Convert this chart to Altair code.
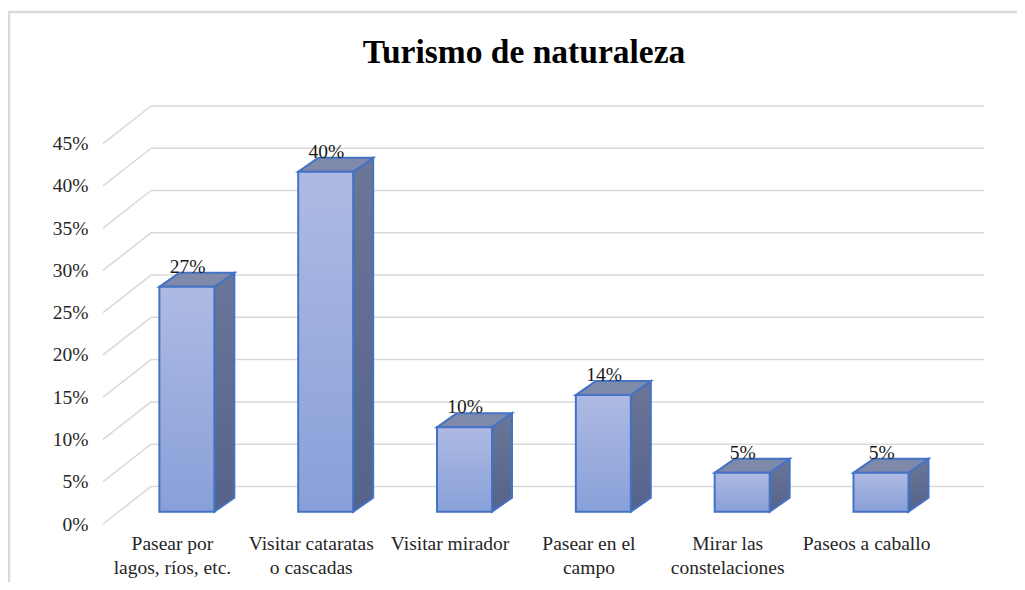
import altair as alt
import pandas as pd

# ---------------- data ----------------
title_text = "Turismo de naturaleza"
categories = [
    "Pasear por\nlagos, ríos, etc.",
    "Visitar cataratas\no cascadas",
    "Visitar mirador",
    "Pasear en el\ncampo",
    "Mirar las\nconstelaciones",
    "Paseos a caballo",
]
values = [0.266, 0.402, 0.100, 0.138, 0.046, 0.046]
tick_values = [0.0, 0.05, 0.10, 0.15, 0.20, 0.25, 0.30, 0.35, 0.40, 0.45]

# ---------------- 3D geometry (in data units) ----------------
X_MAX = 6.346          # 6 bands + depth of the side wall
Y_MAX = 0.4944         # 45% + depth of the floor
DEPTH_X = 0.3458       # horizontal shift from front plane to back wall
DEPTH_Y = 0.04444      # vertical shift from front plane to back wall
FX, FY = 0.104, 0.0145  # bar front face offset (depth)
HW = 0.198              # half width of a bar
SX, SY = 0.144, 0.01656  # bar depth

FONT = "Liberation Serif"
GRID = "#d9d9d9"
EDGE = "#4472c4"

xs = alt.Scale(domain=[0, X_MAX], nice=False, zero=False)
ys = alt.Scale(domain=[0, Y_MAX], nice=False, zero=False)
yaxis = alt.Axis(values=tick_values, format=".0%", labelFont=FONT, labelFontSize=19.5,
                 labelColor="#262626", domain=False, ticks=False, grid=False,
                 labelPadding=15, title=None)


def X(f):
    return alt.X(f, type="quantitative", scale=xs, axis=None)


def Y(f):
    return alt.Y(f, type="quantitative", scale=ys, axis=yaxis)


# ---------------- tables ----------------
grid_df = pd.DataFrame({"v": tick_values})
grid_df["vb"] = grid_df["v"] + DEPTH_Y
grid_df["x0"] = 0.0
grid_df["x1"] = DEPTH_X
grid_df["xe"] = X_MAX

rows, side_rows, top_rows = [], [], []
for i, (c, v) in enumerate(zip(categories, values)):
    cx = i + 0.5 + FX
    left, right = cx - HW, cx + HW
    rows.append({"cat": c, "value": v, "left": left, "right": right,
                 "bottom": FY, "top": FY + v, "cx": cx + 0.005, "ly": FY + v + SY,
                 "lx": i + 0.5, "zero": 0.0})
    side_rows += [
        {"cat": c, "x": right, "ylo": FY, "yhi": FY + v},
        {"cat": c, "x": right + SX, "ylo": FY + SY, "yhi": FY + v + SY},
    ]
    top_rows += [
        {"cat": c, "y": FY + v, "xl": left, "xr": right},
        {"cat": c, "y": FY + v + SY, "xl": left + SX, "xr": right + SX},
    ]
bars_df = pd.DataFrame(rows)
side_df = pd.DataFrame(side_rows)
top_df = pd.DataFrame(top_rows)

# ---------------- layers ----------------
frame = alt.Chart(pd.DataFrame({"a": [0]})).mark_rect(
    fillOpacity=0, stroke=GRID, strokeWidth=2.5
).encode(x=alt.value(-94), x2=alt.value(1000), y=alt.value(-94), y2=alt.value(700))

diag = alt.Chart(grid_df).mark_rule(color=GRID, strokeWidth=1.5).encode(
    x=X("x0"), x2="x1", y=Y("v"), y2="vb")
back = alt.Chart(grid_df).mark_rule(color=GRID, strokeWidth=1.5).encode(
    x=X("x1"), x2="xe", y=Y("vb"))

side = alt.Chart(side_df).mark_area(
    orient="vertical", strokeWidth=2, stroke=EDGE, strokeJoin="miter",
    color=alt.LinearGradient(gradient="linear", x1=0, x2=0, y1=0, y2=1,
                             stops=[alt.GradientStop(color="#6b7797", offset=0),
                                    alt.GradientStop(color="#55628a", offset=1)])
).encode(x=X("x"), y=Y("ylo"), y2="yhi", detail="cat:N")

top = alt.Chart(top_df).mark_area(
    orient="horizontal", color="#7f8aab", stroke=EDGE, strokeWidth=2, strokeJoin="miter"
).encode(y=Y("y"), x=X("xl"), x2="xr", detail="cat:N")

front = alt.Chart(bars_df).mark_rect(
    stroke=EDGE, strokeWidth=2,
    color=alt.LinearGradient(gradient="linear", x1=0, x2=0, y1=0, y2=1,
                             stops=[alt.GradientStop(color="#aebae3", offset=0),
                                    alt.GradientStop(color="#88a0d9", offset=1)])
).encode(x=X("left"), x2="right", y=Y("bottom"), y2="top")

vlabels = alt.Chart(bars_df).mark_text(
    font=FONT, fontSize=19.5, align="center", baseline="alphabetic", color="#1a1a1a"
).encode(x=X("cx"), y=Y("ly"), text=alt.Text("value:Q", format=".0%"))

clabels = alt.Chart(bars_df).mark_text(
    font=FONT, fontSize=19.5, align="center", baseline="alphabetic", color="#262626",
    lineBreak="\n", lineHeight=24, dy=25.5
).encode(x=X("lx"), y=Y("zero"), text="cat:N")

title = alt.Chart(pd.DataFrame({"t": [title_text]})).mark_text(
    font=FONT, fontSize=33.5, fontWeight="bold", align="center", baseline="alphabetic",
    color="#000000"
).encode(text="t:N", x=alt.value(421), y=alt.value(-43))

chart = alt.layer(frame, diag, back, side, top, front, vlabels, clabels, title).properties(
    width=881, height=418,
    background="white",
    autosize=alt.AutoSizeParams(type="none"),
    padding={"left": 95, "top": 98, "right": 33, "bottom": 58},
).configure_view(strokeWidth=0, stroke="transparent")

chart.save("out.html", embed_options={"renderer": "svg", "actions": False})
